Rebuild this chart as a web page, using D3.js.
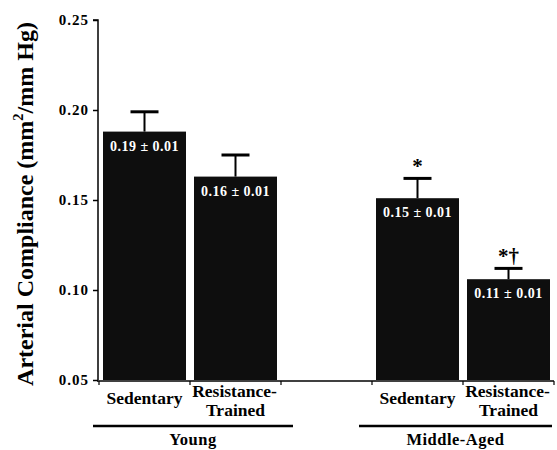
<!DOCTYPE html>
<html>
<head>
<meta charset="utf-8">
<script src="https://cdn.jsdelivr.net/npm/d3@7"></script>
<style>
  html, body { margin: 0; padding: 0; background: #fff; }
  svg { display: block; }
</style>
</head>
<body>
<svg id="chart" width="557" height="450" font-family="'Liberation Serif', 'DejaVu Serif', serif" font-weight="bold"></svg>
<script>
// Arterial compliance by age group and training status (mean ± SEM)
const groups = ["Young", "Middle-Aged"];
const conditions = ["Sedentary", "Resistance-Trained", "Sedentary", "Resistance-Trained"];
const barGroup = [0, 0, 1, 1];
const means = [0.188, 0.163, 0.151, 0.106];
const sems = [0.011, 0.012, 0.011, 0.006];
const significance = ["", "", "*", "*\u2020"];
const yTicks = [0.05, 0.10, 0.15, 0.20, 0.25];

// Slots along x: two bars per group with an empty slot between groups
const slots = ["y-sed", "y-rt", "gap", "m-sed", "m-rt"];
const barSlot = ["y-sed", "y-rt", "m-sed", "m-rt"];

const FONT = "'Liberation Serif', 'DejaVu Serif', serif";
const svg = d3.select("#chart");

const x = d3.scaleBand().domain(slots).range([99, 554])
  .paddingInner(0.088).paddingOuter(0.044);
const y = d3.scaleLinear().domain([0.05, 0.25]).range([380, 20]);
const fmt = d3.format(".2f");

const bars = means.map((m, i) => ({
  slot: barSlot[i], mean: m, sem: sems[i], cond: conditions[i],
  group: barGroup[i], sig: significance[i]
}));
const cx = d => x(d.slot) + x.bandwidth() / 2;

// Bars
svg.append("g").selectAll("rect").data(bars).join("rect")
  .attr("x", d => x(d.slot))
  .attr("width", x.bandwidth())
  .attr("y", d => y(d.mean))
  .attr("height", d => y(0.05) - y(d.mean))
  .attr("fill", "#0e0e0e");

// Error bars (upper only)
const eb = svg.append("g").attr("stroke", "#000");
eb.selectAll("line.stem").data(bars).join("line")
  .attr("class", "stem")
  .attr("x1", cx).attr("x2", cx)
  .attr("y1", d => y(d.mean))
  .attr("y2", d => y(d.mean + d.sem))
  .attr("stroke-width", 2);
eb.selectAll("line.cap").data(bars).join("line")
  .attr("class", "cap")
  .attr("x1", d => cx(d) - 14)
  .attr("x2", d => cx(d) + 14)
  .attr("y1", d => y(d.mean + d.sem))
  .attr("y2", d => y(d.mean + d.sem))
  .attr("stroke-width", 3);

// Value labels inside the bars
svg.append("g").selectAll("text").data(bars).join("text")
  .attr("x", cx)
  .attr("y", d => y(d.mean) + 19)
  .attr("text-anchor", "middle")
  .attr("fill", "#fff")
  .attr("font-family", FONT)
  .attr("font-size", 14)
  .attr("letter-spacing", 0.5)
  .text(d => `${fmt(d.mean)} \u00b1 ${fmt(d.sem)}`);

// Significance markers
svg.append("g").selectAll("text").data(bars.filter(d => d.sig)).join("text")
  .attr("x", cx)
  .attr("y", d => y(d.mean + d.sem) - 5)
  .attr("text-anchor", "middle")
  .attr("font-family", FONT)
  .attr("font-size", 21)
  .text(d => d.sig);

// Y axis
const yAxis = svg.append("g").attr("transform", "translate(98,0)")
  .call(d3.axisLeft(y).tickValues(yTicks).tickFormat(fmt).tickSize(5).tickPadding(4));
yAxis.attr("font-family", FONT).attr("font-weight", "bold");
yAxis.select(".domain").attr("d", `M-5,${y(0.25)}H0V${y(0.05)}`).attr("stroke-width", 1.5);
yAxis.selectAll(".tick line").attr("stroke-width", 1.5);
yAxis.selectAll(".tick text")
  .attr("font-size", 15).attr("letter-spacing", 1).attr("fill", "#000");

// X axis baseline with ticks at slot boundaries
const xAxisY = 381;
const bounds = slots.map(s => x(s) - x.step() * 0.044).concat([x("m-rt") + x.bandwidth() + x.step() * 0.044]);
const xa = svg.append("g").attr("stroke", "#000");
xa.append("line").attr("x1", 97).attr("x2", bounds[bounds.length - 1])
  .attr("y1", xAxisY).attr("y2", xAxisY).attr("stroke-width", 1.5);
xa.selectAll("line.tick").data(bounds).join("line")
  .attr("class", "tick")
  .attr("x1", d => d).attr("x2", d => d)
  .attr("y1", xAxisY).attr("y2", xAxisY + 4)
  .attr("stroke-width", 1.2);

// Condition labels
const lab = svg.append("g").attr("font-size", 17.5).attr("text-anchor", "middle").attr("font-family", FONT);
bars.forEach(d => {
  const c = cx(d);
  const parts = d.cond.split("-");
  if (parts.length === 1) {
    lab.append("text").attr("x", c).attr("y", 404).text(d.cond);
  } else {
    lab.append("text").attr("x", c - 1).attr("y", 397).text(parts[0] + "-");
    lab.append("text").attr("x", c).attr("y", 416).text(parts[1]);
  }
});

// Group underlines and group labels
const groupSpan = [[93, 293], [359, 552]];
groups.forEach((g, i) => {
  const [a, b] = groupSpan[i];
  svg.append("line").attr("x1", a).attr("x2", b).attr("y1", 426).attr("y2", 426)
    .attr("stroke", "#000").attr("stroke-width", 2.5);
  svg.append("text").attr("x", (a + b) / 2).attr("y", 445)
    .attr("text-anchor", "middle").attr("font-size", 16.5).attr("letter-spacing", 0.5)
    .attr("font-family", FONT).text(g);
});

// Y axis title
const yt = svg.append("text")
  .attr("transform", "translate(33,204) rotate(-90)")
  .attr("text-anchor", "middle")
  .attr("font-family", FONT)
  .attr("font-size", 24);
yt.append("tspan").text("Arterial Compliance (mm");
yt.append("tspan").attr("font-size", 14.5).attr("dy", -10).text("2");
yt.append("tspan").attr("dy", 10).text("/mm Hg)");
</script>
</body>
</html>
